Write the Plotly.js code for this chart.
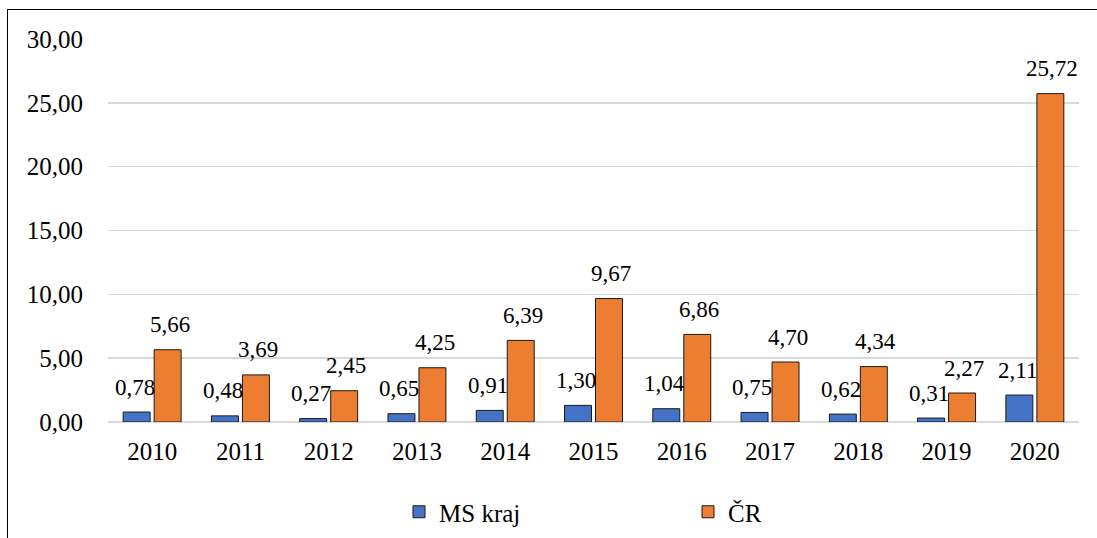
<!DOCTYPE html>
<html>
<head>
<meta charset="utf-8">
<script src="https://cdn.plot.ly/plotly-3.0.1.min.js"></script>
<style>
  html, body { margin: 0; padding: 0; background: #fff; overflow: hidden; }
  #chart { position: absolute; left: 0; top: 0; width: 1097px; height: 538px; }
  #frame { position: absolute; left: 7px; top: 9px; width: 1200px; height: 700px; border: 1.5px solid #000; pointer-events: none; }
</style>
</head>
<body>
<div id="chart"></div>
<div id="frame"></div>
<script>
const years = ['2010','2011','2012','2013','2014','2015','2016','2017','2018','2019','2020'];
const msKraj = [0.78, 0.48, 0.27, 0.65, 0.91, 1.30, 1.04, 0.75, 0.62, 0.31, 2.11];
const cr = [5.66, 3.69, 2.45, 4.25, 6.39, 9.67, 6.86, 4.70, 4.34, 2.27, 25.72];
const seriesNames = ['MS kraj', 'ČR'];
const yTicks = [0, 5, 10, 15, 20, 25, 30];

const font = 'Liberation Serif';
const fmt = v => v.toFixed(2).replace('.', ',');

const traces = [
  {
    type: 'bar', name: seriesNames[0], x: years, y: msKraj,
    marker: { color: '#4472C4', line: { color: '#1a1a1a', width: 1 } },
    hoverinfo: 'x+y'
  },
  {
    type: 'bar', name: seriesNames[1], x: years, y: cr,
    marker: { color: '#ED7D31', line: { color: '#1a1a1a', width: 1 } },
    hoverinfo: 'x+y'
  }
];

// data labels: x given as category index (a numeric-looking string would be read as an index)
const annotations = [];
[msKraj, cr].forEach((vals, s) => {
  vals.forEach((v, i) => {
    annotations.push({
      x: i, y: v, xref: 'x', yref: 'y',
      text: fmt(v), showarrow: false,
      xanchor: 'center', yanchor: 'middle',
      xshift: s === 0 ? -17.6 : 17.6, yshift: 25,
      font: { family: font, size: 23, color: '#000' }
    });
  });
});

const layout = {
  width: 1097, height: 538,
  margin: { l: 108, r: 18, t: 39, b: 116, pad: 0, autoexpand: false },
  paper_bgcolor: 'rgba(0,0,0,0)', plot_bgcolor: 'rgba(0,0,0,0)',
  separators: ', ',
  font: { family: font, size: 24, color: '#000' },
  barmode: 'group', bargap: 0.298, bargroupgap: 0.13,
  showlegend: true,
  annotations: annotations,
  legend: {
    orientation: 'h', x: (399 - 108) / 971, xanchor: 'left',
    y: -0.235, yanchor: 'middle',
    font: { family: font, size: 25, color: '#000' },
    entrywidth: 244, entrywidthmode: 'pixels', itemwidth: 30,
    bgcolor: 'rgba(0,0,0,0)'
  },
  xaxis: {
    type: 'category', range: [-0.5, years.length - 0.5],
    tickfont: { family: font, size: 25, color: '#000' },
    showline: false, ticks: '', showgrid: false, zeroline: false, automargin: false,
    ticklabelstandoff: 12
  },
  yaxis: {
    range: [0, 30], tickvals: yTicks, ticktext: yTicks.map(fmt),
    tickfont: { family: font, size: 25, color: '#000' },
    showgrid: true, gridcolor: '#d9d9d9', gridwidth: 1.5,
    zeroline: true, zerolinecolor: '#d9d9d9', zerolinewidth: 1.5,
    showline: false, ticks: '', ticklabelstandoff: 24, automargin: false
  }
};

Plotly.newPlot('chart', traces, layout, { displayModeBar: false, staticPlot: true });
</script>
</body>
</html>
